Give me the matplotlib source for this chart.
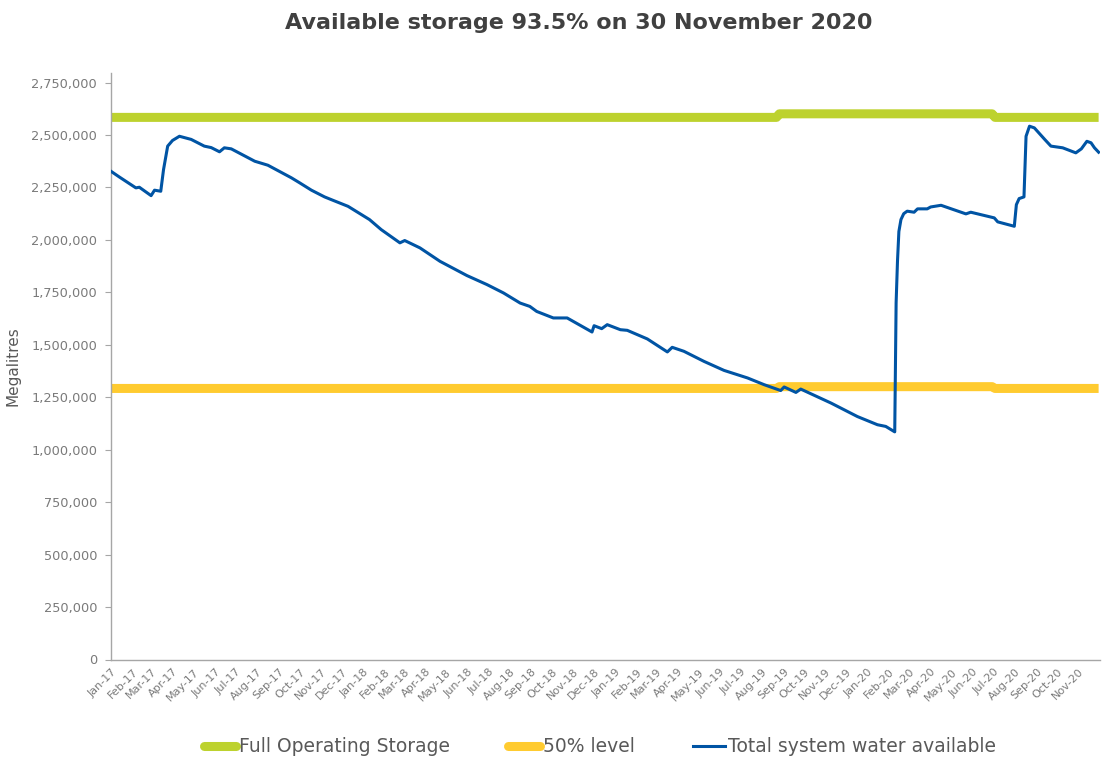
import matplotlib
matplotlib.use('Agg')
import matplotlib.pyplot as plt
from matplotlib.lines import Line2D
import pandas as pd

# ---- data ----
start_date = '2017-01-01'
# days since 1 Jan 2017 and total system water available (ML)
total_days = [0, 12, 36, 41, 58, 63, 72, 76, 82, 89, 99, 116, 135, 145, 157, 164, 174,
              208, 227, 261, 273, 290, 309, 321, 343, 374, 391, 418, 425, 447, 476, 515,
              544, 568, 592, 606, 616, 640, 660, 696, 699, 710, 718, 737, 747, 776, 805,
              812, 829, 858, 887, 921, 945, 969, 974, 991, 998, 1042, 1080, 1109, 1121,
              1134, 1136, 1138, 1140, 1143, 1147, 1152, 1162, 1167, 1181, 1186, 1201, 1215,
              1237, 1244, 1278, 1283, 1307, 1310, 1314, 1321, 1324, 1329, 1336, 1351, 1360,
              1377, 1396, 1404, 1412, 1418, 1423, 1429]
total_ml = [2327000, 2300000, 2248000, 2251000, 2211000, 2237000, 2232000, 2335000, 2447000,
            2474000, 2494000, 2479000, 2447000, 2440000, 2420000, 2439000, 2434000,
            2375000, 2356000, 2296000, 2272000, 2237000, 2205000, 2189000, 2160000, 2097000,
            2049000, 1986000, 1997000, 1962000, 1898000, 1830000,
            1787000, 1747000, 1699000, 1683000, 1659000, 1628000, 1628000, 1561000, 1591000,
            1577000, 1596000, 1572000, 1569000, 1528000, 1466000,
            1488000, 1469000, 1421000, 1378000, 1342000, 1310000, 1282000, 1299000, 1273000,
            1289000, 1222000, 1158000, 1119000, 1111000,
            1085000, 1700000, 1900000, 2040000, 2097000, 2125000, 2137000, 2132000, 2148000,
            2148000, 2157000, 2165000, 2149000,
            2124000, 2132000, 2105000, 2086000, 2065000, 2168000, 2197000, 2205000, 2494000,
            2542000, 2534000, 2479000, 2447000,
            2439000, 2415000, 2434000, 2470000, 2463000, 2439000, 2418000]

level_days = [0, 963, 967, 1275, 1279, 1429]
fos_ml = [2584000, 2584000, 2601000, 2601000, 2584000, 2584000]
half_ml = [1292000, 1292000, 1300500, 1300500, 1292000, 1292000]

month_starts = pd.date_range('2017-01-01', '2020-11-01', freq='MS')
quarter_starts = pd.date_range('2017-01-01', '2020-10-01', freq='QS')
yticks = list(range(0, 2750001, 250000))

title = 'Available storage 93.5% on 30 November 2020'
series_names = ['Full Operating Storage', '50% level', 'Total system water available']

# ---- plotting ----
c_green = '#BDD22E'
c_yellow = '#FFCB30'
c_blue = '#0054A4'
c_text = '#595959'
c_tick = '#7A7A7A'
c_axis = '#A6A6A6'

plt.rcParams['font.family'] = ['DejaVu Sans']

start = pd.Timestamp(start_date)
t_total = start + pd.to_timedelta(total_days, unit='D')
t_level = start + pd.to_timedelta(level_days, unit='D')

fig = plt.figure(figsize=(11.05, 7.61), dpi=100)
ax = fig.add_axes([111/1105, 1 - 659.5/761, (1100 - 111)/1105, (659.5 - 72.7)/761])

ax.plot(t_level, fos_ml, color=c_green, lw=6.5, solid_capstyle='butt', zorder=2)
ax.plot(t_level, half_ml, color=c_yellow, lw=6.5, solid_capstyle='butt', zorder=2)
ax.plot(t_total, total_ml, color=c_blue, lw=2.2, solid_joinstyle='round', zorder=3)

ax.set_xlim(start, pd.Timestamp('2020-12-02'))
ax.set_ylim(0, 2797000)
ax.set_yticks(yticks)
ax.set_yticklabels([f'{v:,}' for v in yticks], color=c_tick, fontsize=9.3)
ax.tick_params(axis='y', length=4, color=c_axis, pad=6)

ax.set_xticks(month_starts)
ax.set_xticklabels([d.strftime('%b-%y') for d in month_starts], rotation=45,
                   ha='right', va='top', rotation_mode='anchor', color=c_tick, fontsize=8)
ax.tick_params(axis='x', which='major', length=0, pad=5)
ax.set_xticks(quarter_starts, minor=True)
ax.tick_params(axis='x', which='minor', length=5, color=c_axis)

for s in ['top', 'right']:
    ax.spines[s].set_visible(False)
for s in ['left', 'bottom']:
    ax.spines[s].set_color(c_axis)
    ax.spines[s].set_linewidth(1.0)

ax.set_ylabel('Megalitres', color=c_text, fontsize=11, labelpad=8)

fig.text(579/1105, 1 - 23/761, title, ha='center', va='center', fontsize=16,
         fontweight='bold', color='#404040')

h1 = Line2D([], [], color=c_green, lw=6.5, solid_capstyle='round')
h2 = Line2D([], [], color=c_yellow, lw=6.5, solid_capstyle='round')
h3 = Line2D([], [], color=c_blue, lw=2.2)
leg = fig.legend([h1, h2, h3], series_names, loc='center', ncol=3,
                 bbox_to_anchor=(600/1105, 1 - 747/761), frameon=False,
                 fontsize=13.5, handlelength=1.7, handletextpad=0.15, columnspacing=3.1)
for t in leg.get_texts():
    t.set_color(c_text)

fig.savefig('out.png', dpi=100)
